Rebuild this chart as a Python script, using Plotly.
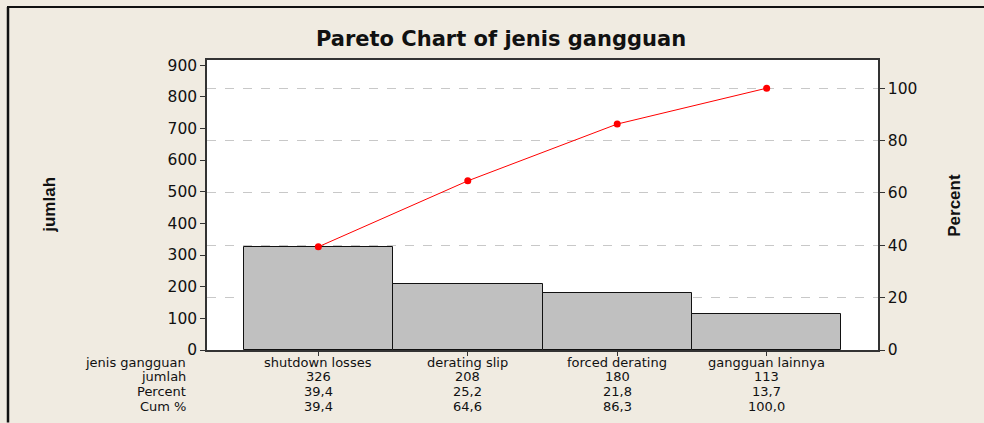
import plotly.graph_objects as go

categories = ["shutdown losses", "derating slip", "forced derating", "gangguan lainnya"]
jumlah = [326, 208, 180, 113]
percent = ["39,4", "25,2", "21,8", "13,7"]
cum_pct = ["39,4", "64,6", "86,3", "100,0"]
cum_vals = [39.4, 64.6, 86.3, 100.0]
row_labels = ["jenis gangguan", "jumlah", "Percent", "Cum %"]

total = sum(jumlah)
W, H = 984, 423
L, R, T, B = 207, 878, 60, 350.5
ymax = 916.0
y2max = ymax / total * 100

def px_x(px):
    return (px - L) / (R - L)

def px_y(py):
    return (B - py) / (B - T)

xs = list(range(len(categories)))
fig = go.Figure()
fig.add_trace(go.Bar(x=xs, y=jumlah, width=1.0, marker=dict(color="#C0C0C0", line=dict(color="#111111", width=1)),
                     showlegend=False, hoverinfo="skip"))
fig.add_trace(go.Scatter(x=xs, y=cum_vals, yaxis="y2", mode="lines+markers",
                         line=dict(color="#FF0000", width=1), marker=dict(color="#FF0000", size=7),
                         showlegend=False))

FONT = "DejaVu Sans"
TS = 13
ann = []
rows_y = [363, 377, 392, 407]
table = [categories, [str(v) for v in jumlah], percent, cum_pct]
for r, (lab, yy) in enumerate(zip(row_labels, rows_y)):
    ann.append(dict(x=px_x(188), y=px_y(yy), xref="paper", yref="paper", text=lab, showarrow=False,
                    xanchor="right", yanchor="middle", font=dict(family=FONT, size=TS, color="#111")))
    for i, v in enumerate(table[r]):
        ann.append(dict(x=xs[i], y=px_y(yy), xref="x", yref="paper", text=v, showarrow=False,
                        xanchor="center", yanchor="middle", font=dict(family=FONT, size=TS, color="#111")))
ann.append(dict(x=px_x(50), y=px_y(205), xref="paper", yref="paper", text="<b>jumlah</b>", showarrow=False,
                xanchor="center", yanchor="middle",
                textangle=-90, font=dict(family="Liberation Sans Narrow, Liberation Sans", size=17, color="#111")))
ann.append(dict(x=px_x(955), y=px_y(205), xref="paper", yref="paper", text="<b>Percent</b>", showarrow=False,
                xanchor="center", yanchor="middle",
                textangle=-90, font=dict(family="Liberation Sans Narrow, Liberation Sans", size=17, color="#111")))

shapes = [
    dict(type="line", xref="paper", yref="paper", x0=px_x(8), x1=px_x(8), y0=px_y(7), y1=px_y(423), line=dict(color="#111", width=2.5)),
    dict(type="line", xref="paper", yref="paper", x0=px_x(7), x1=px_x(984), y0=px_y(7), y1=px_y(7), line=dict(color="#111", width=2)),
]

fig.update_layout(
    width=W, height=H,
    margin=dict(l=L, r=W - R, t=T, b=H - B, pad=0),
    paper_bgcolor="#F0EBE1", plot_bgcolor="#FFFFFF",
    title=dict(text="<b>Pareto Chart of jenis gangguan</b>", x=px_x(501), xref="paper", xanchor="center",
               y=1 - 39 / H, yanchor="middle", font=dict(family=FONT, size=21, color="#111")),
    xaxis=dict(range=[-0.745, 3.745], tickvals=xs, showticklabels=False, ticks="outside", ticklen=4,
               tickcolor="#333", showline=True, linecolor="#333", linewidth=1.5, mirror=True,
               showgrid=False, zeroline=False, fixedrange=True),
    yaxis=dict(range=[0, ymax], dtick=100, tick0=0, ticks="outside", ticklen=5, tickcolor="#333",
               showline=True, linecolor="#333", linewidth=1.5, showgrid=False, zeroline=False,
               tickfont=dict(family=FONT, size=15.5, color="#111")),
    yaxis2=dict(range=[0, y2max], dtick=20, tick0=0, overlaying="y", side="right", ticks="outside", ticklen=5,
                tickcolor="#333", showline=True, linecolor="#333", linewidth=1.5, showgrid=True,
                gridcolor="#C8C8C8", griddash="dash", gridwidth=1, zeroline=False,
                tickfont=dict(family=FONT, size=15.5, color="#111")),
    annotations=ann, shapes=shapes, bargap=0,
)
fig.write_html("out.html", config={"displayModeBar": False},
               post_script="document.body.style.margin='0';document.body.style.overflow='hidden';")
